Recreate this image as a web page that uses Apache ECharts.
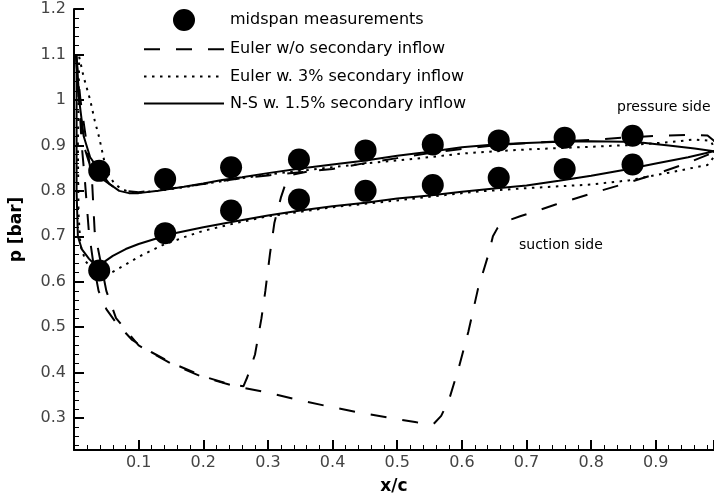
<!DOCTYPE html>
<html>
<head>
    <meta charset="utf-8">
    <title>ECharts</title>
    <script src="https://cdn.jsdelivr.net/npm/echarts@6/dist/echarts.min.js"></script>
</head>
<body style="margin:0">
<div id="main" style="width: 714px;height:500px;"></div>
<script type="text/javascript">
    // measured points, [x/c, p]
    var midspanPressure = [[0.039,0.844],[0.141,0.826],[0.243,0.852],[0.348,0.869],[0.451,0.889],[0.555,0.902],[0.657,0.911],[0.759,0.917],[0.864,0.921]];
    var midspanSuction = [[0.039,0.625],[0.141,0.707],[0.243,0.757],[0.348,0.781],[0.451,0.800],[0.555,0.813],[0.657,0.829],[0.759,0.848],[0.864,0.858]];

    // N-S w. 1.5% secondary inflow
    var nsPressure = [[0.004,1.10],[0.008,1.00],[0.015,0.92],[0.025,0.874],[0.039,0.845],[0.055,0.815],[0.07,0.800],[0.085,0.795],[0.1,0.795],[0.13,0.800],[0.17,0.809],[0.2,0.816],[0.229,0.824],[0.26,0.830],[0.3,0.839],[0.35,0.849],[0.4,0.858],[0.451,0.867],[0.5,0.877],[0.55,0.886],[0.6,0.896],[0.65,0.902],[0.7,0.905],[0.75,0.908],[0.8,0.909],[0.85,0.908],[0.88,0.906],[0.92,0.900],[0.96,0.893],[0.99,0.887]];
    var nsSuction = [[0.99,0.887],[0.95,0.874],[0.9,0.860],[0.85,0.846],[0.8,0.833],[0.75,0.822],[0.7,0.812],[0.65,0.805],[0.6,0.798],[0.55,0.790],[0.5,0.783],[0.451,0.774],[0.4,0.766],[0.35,0.757],[0.3,0.746],[0.25,0.733],[0.2,0.720],[0.15,0.705],[0.1,0.683],[0.08,0.672],[0.06,0.657],[0.045,0.642],[0.036,0.632],[0.023,0.651],[0.012,0.672],[0.006,0.70],[0.004,0.80],[0.004,0.90],[0.004,1.10]];

    // Euler w. 3% secondary inflow
    var eu3Pressure = [[0.008,1.095],[0.015,1.05],[0.025,1.0],[0.032,0.955],[0.039,0.917],[0.048,0.858],[0.055,0.832],[0.063,0.815],[0.075,0.803],[0.085,0.798],[0.1,0.796],[0.13,0.800],[0.17,0.808],[0.2,0.815],[0.26,0.828],[0.3,0.836],[0.35,0.844],[0.4,0.852],[0.45,0.860],[0.5,0.867],[0.55,0.874],[0.6,0.882],[0.65,0.887],[0.7,0.891],[0.75,0.894],[0.8,0.897],[0.864,0.901],[0.92,0.907],[0.96,0.913],[0.985,0.91],[0.99,0.895]];
    var eu3Suction = [[0.99,0.875],[0.98,0.857],[0.92,0.840],[0.858,0.823],[0.8,0.814],[0.7,0.806],[0.62,0.798],[0.55,0.787],[0.5,0.779],[0.4,0.764],[0.3,0.744],[0.25,0.729],[0.2,0.712],[0.17,0.698],[0.136,0.680],[0.1,0.655],[0.08,0.638],[0.059,0.621],[0.045,0.615],[0.03,0.625],[0.018,0.645],[0.01,0.68],[0.007,0.75],[0.006,0.90],[0.008,1.095]];

    // Euler w/o secondary inflow
    var euPressure = [[0.003,1.10],[0.008,1.0],[0.015,0.90],[0.025,0.855],[0.04,0.83],[0.06,0.81],[0.08,0.80],[0.1,0.797],[0.15,0.805],[0.2,0.815],[0.25,0.826],[0.3,0.834],[0.35,0.841],[0.4,0.848],[0.45,0.861],[0.5,0.872],[0.55,0.883],[0.6,0.892],[0.65,0.900],[0.7,0.905],[0.75,0.909],[0.8,0.912],[0.85,0.917],[0.9,0.921],[0.95,0.923],[0.98,0.922],[0.99,0.91]];
    var euSuctionB = [[0.99,0.885],[0.943,0.858],[0.9,0.837],[0.85,0.815],[0.8,0.794],[0.745,0.770],[0.72,0.758],[0.69,0.744],[0.668,0.733],[0.655,0.718],[0.648,0.70],[0.64,0.655],[0.625,0.585],[0.61,0.49],[0.595,0.41],[0.58,0.34],[0.568,0.305],[0.556,0.287],[0.53,0.291],[0.5,0.298],[0.45,0.310],[0.4,0.324],[0.35,0.339],[0.3,0.356],[0.265,0.366],[0.25,0.370],[0.2,0.390],[0.15,0.420],[0.1,0.460],[0.065,0.52],[0.05,0.58],[0.032,0.71],[0.028,0.82],[0.02,0.9],[0.01,1.0],[0.003,1.10]];
    var euSuctionA = [[0.003,1.10],[0.008,1.0],[0.012,0.9],[0.017,0.82],[0.023,0.71],[0.03,0.64],[0.038,0.58],[0.05,0.54],[0.065,0.51],[0.09,0.472],[0.12,0.445],[0.15,0.422],[0.2,0.392],[0.24,0.375],[0.262,0.370],[0.268,0.39],[0.28,0.44],[0.29,0.52],[0.296,0.58],[0.303,0.66],[0.31,0.73],[0.32,0.785],[0.327,0.815],[0.335,0.835],[0.36,0.842]];

    var xTicks = [0.1, 0.2, 0.3, 0.4, 0.5, 0.6, 0.7, 0.8, 0.9];

    var chartDom = document.getElementById('main');
    var myChart = echarts.init(chartDom);

    var axisCommon = {
        axisLine: { lineStyle: { color: '#000', width: 2 } },
        axisTick: { inside: true, length: 10, lineStyle: { color: '#000', width: 2 } },
        minorTick: { show: true, splitNumber: 5, length: 5, lineStyle: { color: '#000', width: 1 } },
        splitLine: { show: false },
        axisLabel: { color: '#444', fontSize: 16, fontFamily: 'DejaVu Sans', showMinLabel: false, showMaxLabel: false },
        nameTextStyle: { color: '#000', fontSize: 17, fontWeight: 'bold', fontFamily: 'DejaVu Sans' }
    };

    // no marker in the legend icons of the line series
    var noMarker = { color: 'rgba(0,0,0,0)', borderColor: 'rgba(0,0,0,0)', borderWidth: 0, opacity: 0 };

    var option = {
        animation: false,
        textStyle: { fontFamily: 'DejaVu Sans' },
        grid: { left: 72, right: 0, top: 9, bottom: 43 },
        legend: {
            orient: 'vertical',
            left: 138,
            top: 4,
            itemWidth: 80,
            itemHeight: 22,
            itemGap: 9.5,
            textStyle: { fontFamily: 'DejaVu Sans', fontSize: 16, color: '#000', padding: [0, 0, 0, 1] },
            data: [
                { name: 'midspan measurements' },
                { name: 'Euler w/o secondary inflow', itemStyle: noMarker },
                { name: 'Euler w. 3% secondary inflow', itemStyle: noMarker },
                { name: 'N-S w. 1.5% secondary inflow', itemStyle: noMarker }
            ]
        },
        xAxis: Object.assign({}, axisCommon, {
            type: 'value',
            min: 0,
            max: 0.99,
            interval: 0.1,
            name: 'x/c',
            nameLocation: 'middle',
            nameGap: 28,
            axisLabel: Object.assign({}, axisCommon.axisLabel, {
                margin: 5,
                formatter: function (v) { return xTicks.indexOf(Math.round(v * 10) / 10) >= 0 && Math.abs(v * 10 - Math.round(v * 10)) < 1e-6 ? String(Math.round(v * 10) / 10) : ''; }
            })
        }),
        yAxis: Object.assign({}, axisCommon, {
            type: 'value',
            min: 0.23,
            max: 1.2,
            splitNumber: 10,
            minInterval: 0.1,
            maxInterval: 0.1,
            name: 'p [bar]',
            nameLocation: 'middle',
            nameGap: 49,
            axisLabel: Object.assign({}, axisCommon.axisLabel, { margin: 8, showMaxLabel: true })
        }),
        graphic: [
            { type: 'text', left: 617, top: 100, style: { text: 'pressure side', font: '14px "DejaVu Sans"', fill: '#000' } },
            { type: 'text', left: 519, top: 238, style: { text: 'suction side', font: '14px "DejaVu Sans"', fill: '#000' } }
        ],
        series: [
            { name: 'Euler w/o secondary inflow', type: 'line', symbol: 'none', data: euPressure.concat(euSuctionB),
              lineStyle: { color: '#000', width: 2, type: [16, 16] } },
            { name: 'Euler w/o secondary inflow', type: 'line', symbol: 'none', data: euSuctionA,
              lineStyle: { color: '#000', width: 2, type: [16, 16] } },
            { name: 'Euler w. 3% secondary inflow', type: 'line', symbol: 'none', data: eu3Pressure.concat(eu3Suction),
              lineStyle: { color: '#000', width: 2, type: [2.5, 5.5] } },
            { name: 'N-S w. 1.5% secondary inflow', type: 'line', symbol: 'none', data: nsPressure.concat(nsSuction),
              lineStyle: { color: '#000', width: 2, type: 'solid' } },
            { name: 'midspan measurements', type: 'scatter', symbol: 'circle', symbolSize: 22,
              itemStyle: { color: '#000', opacity: 1 }, data: midspanPressure.concat(midspanSuction) }
        ]
    };

    if (option && typeof option === 'object') {
        myChart.setOption(option);
    }
</script>
</body>
</html>
